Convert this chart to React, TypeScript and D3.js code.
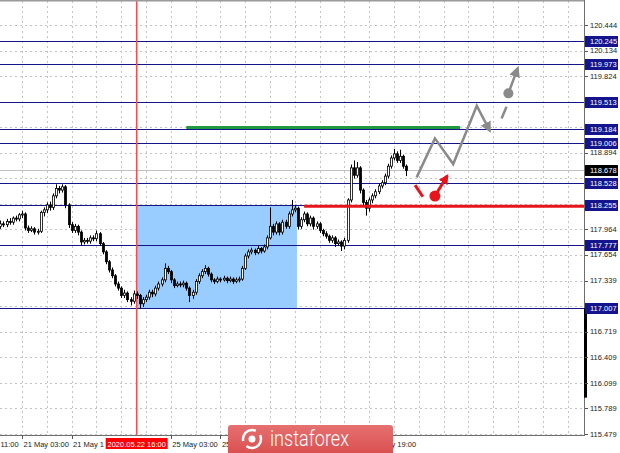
import * as d3 from "d3"

const W = 620
const H = 453

// price axis
const yTickLabels = [
  "115.479", "115.789", "116.099", "116.409", "116.719", "117.029", "117.339", "117.654", "117.964",
  "118.274", "118.584", "118.894", "119.204", "119.514", "119.824", "120.134", "120.444",
]
const levels = [120.245, 119.973, 119.513, 119.184, 119.006, 118.528, 118.255, 117.777, 117.007]
const lastPrice = 118.678
const keyLevel = 118.255
const targetLevel = 119.2

// time axis (bar index -> label); first one only shows its time, date is off-screen
const xTickBars = [-9, 7, 23, 55, 71, 119]
const xTickLabels = ["11:00", "21 May 03:00", "21 May 19:00", "25 May 03:00", "25 May 19:00", "27 May 19:00"]
const markBar = 44
const markLabel = "2020.05.22 16:00"

// objects on the chart, in [bar, price]
const boxRange = [44, 95.7]
const boxPrices = [117.007, 118.255]
const keyLineFrom = 98
const targetRange = [60, 148.3]
const grayPath: [number, number][] = [[134.3, 118.594], [140.2, 119.068], [146.1, 118.756], [153.7, 119.463], [157.9, 119.16]]
const grayDash: [number, number][] = [[161.7, 119.31], [163.3, 119.451]]
const grayArrow: [number, number][] = [[163.9, 119.614], [166.9, 119.92]]
const redDash: [number, number][] = [[133.8, 118.501], [136.3, 118.359]]
const redArrow: [number, number][] = [[140.2, 118.367], [144.2, 118.615]]
const scaleBar = [117.007, 115.92]

// H1 candles: open, high, low, close
const bars: [number, number, number, number][] = [
  [118.00, 118.07, 117.97, 118.03], [118.03, 118.06, 117.99, 118.02], [118.02, 118.09, 117.99, 118.06], [118.06, 118.10, 118.02, 118.05],
  [118.05, 118.12, 118.02, 118.10], [118.10, 118.13, 118.06, 118.09], [118.09, 118.16, 118.06, 118.14], [118.14, 118.19, 118.10, 118.15],
  [118.15, 118.17, 117.95, 117.98], [117.98, 118.01, 117.92, 117.95], [117.95, 118.00, 117.93, 117.97], [117.97, 117.99, 117.90, 117.93],
  [117.93, 117.97, 117.90, 117.94], [117.94, 118.19, 117.92, 118.17], [118.17, 118.23, 118.12, 118.20], [118.20, 118.29, 118.16, 118.26],
  [118.26, 118.30, 118.19, 118.23], [118.23, 118.40, 118.20, 118.37], [118.37, 118.51, 118.34, 118.46], [118.46, 118.49, 118.40, 118.44],
  [118.44, 118.51, 118.41, 118.48], [118.48, 118.50, 118.22, 118.26], [118.26, 118.28, 117.98, 118.02], [118.02, 118.05, 117.92, 117.95],
  [117.95, 118.03, 117.92, 118.00], [118.00, 118.02, 117.89, 117.93], [117.93, 117.95, 117.77, 117.81], [117.81, 117.86, 117.78, 117.83],
  [117.83, 117.86, 117.79, 117.82], [117.82, 117.89, 117.79, 117.86], [117.86, 117.89, 117.82, 117.85], [117.85, 117.95, 117.82, 117.91],
  [117.91, 117.93, 117.76, 117.79], [117.79, 117.81, 117.66, 117.69], [117.69, 117.71, 117.54, 117.57], [117.57, 117.59, 117.44, 117.47],
  [117.47, 117.50, 117.37, 117.40], [117.40, 117.42, 117.27, 117.30], [117.30, 117.33, 117.22, 117.25], [117.25, 117.27, 117.13, 117.16],
  [117.16, 117.23, 117.13, 117.19], [117.19, 117.21, 117.08, 117.11], [117.11, 117.14, 117.04, 117.09], [117.09, 117.22, 117.06, 117.18],
  [117.18, 117.21, 117.12, 117.16], [117.16, 117.18, 117.00, 117.06], [117.06, 117.14, 117.02, 117.11], [117.11, 117.17, 117.08, 117.14],
  [117.14, 117.23, 117.11, 117.20], [117.20, 117.23, 117.14, 117.18], [117.18, 117.28, 117.15, 117.25], [117.25, 117.33, 117.22, 117.30],
  [117.30, 117.38, 117.27, 117.35], [117.35, 117.55, 117.32, 117.49], [117.49, 117.52, 117.42, 117.45], [117.45, 117.47, 117.31, 117.35],
  [117.35, 117.37, 117.25, 117.28], [117.28, 117.33, 117.26, 117.30], [117.30, 117.33, 117.26, 117.29], [117.29, 117.34, 117.26, 117.31],
  [117.31, 117.33, 117.22, 117.25], [117.25, 117.27, 117.08, 117.16], [117.16, 117.23, 117.12, 117.20], [117.20, 117.36, 117.17, 117.33],
  [117.33, 117.43, 117.30, 117.40], [117.40, 117.48, 117.37, 117.45], [117.45, 117.53, 117.42, 117.49], [117.49, 117.51, 117.39, 117.42],
  [117.42, 117.44, 117.32, 117.35], [117.35, 117.37, 117.30, 117.33], [117.33, 117.39, 117.31, 117.36], [117.36, 117.38, 117.32, 117.35],
  [117.35, 117.40, 117.33, 117.37], [117.37, 117.39, 117.31, 117.34], [117.34, 117.39, 117.32, 117.36], [117.36, 117.38, 117.30, 117.33],
  [117.33, 117.38, 117.31, 117.35], [117.35, 117.39, 117.32, 117.36], [117.36, 117.52, 117.34, 117.49], [117.49, 117.67, 117.47, 117.64],
  [117.64, 117.72, 117.61, 117.69], [117.69, 117.74, 117.66, 117.71], [117.71, 117.73, 117.65, 117.68], [117.68, 117.76, 117.66, 117.73],
  [117.73, 117.75, 117.67, 117.70], [117.70, 117.78, 117.68, 117.75], [117.75, 117.89, 117.72, 117.86], [117.86, 118.23, 117.84, 118.00],
  [118.00, 118.03, 117.89, 117.93], [117.93, 118.06, 117.90, 118.03], [118.03, 118.05, 117.89, 117.93], [117.93, 118.08, 117.90, 118.05],
  [118.05, 118.08, 117.97, 118.00], [118.00, 118.18, 117.97, 118.15], [118.15, 118.32, 118.12, 118.20], [118.20, 118.26, 118.17, 118.22],
  [118.22, 118.24, 117.96, 118.00], [118.00, 118.11, 117.97, 118.08], [118.08, 118.18, 118.05, 118.15], [118.15, 118.17, 118.00, 118.03],
  [118.03, 118.13, 118.00, 118.10], [118.10, 118.12, 117.96, 118.00], [118.00, 118.06, 117.97, 118.03], [118.03, 118.05, 117.92, 117.95],
  [117.95, 117.97, 117.88, 117.91], [117.91, 117.94, 117.85, 117.88], [117.88, 117.90, 117.80, 117.83], [117.83, 117.89, 117.80, 117.86],
  [117.86, 117.88, 117.75, 117.79], [117.79, 117.84, 117.76, 117.81], [117.81, 117.83, 117.70, 117.76], [117.76, 117.86, 117.72, 117.83],
  [117.83, 118.34, 117.80, 118.32], [118.32, 118.75, 118.29, 118.71], [118.71, 118.80, 118.58, 118.62], [118.62, 118.78, 118.59, 118.71],
  [118.71, 118.73, 118.40, 118.44], [118.44, 118.46, 118.24, 118.29], [118.29, 118.32, 118.13, 118.22], [118.22, 118.35, 118.18, 118.32],
  [118.32, 118.40, 118.28, 118.37], [118.37, 118.45, 118.34, 118.42], [118.42, 118.52, 118.39, 118.49], [118.49, 118.56, 118.46, 118.53],
  [118.53, 118.64, 118.50, 118.61], [118.61, 118.76, 118.58, 118.73], [118.73, 118.86, 118.70, 118.83], [118.83, 118.94, 118.80, 118.88],
  [118.88, 118.91, 118.77, 118.80], [118.80, 118.93, 118.77, 118.85], [118.85, 118.87, 118.70, 118.73], [118.73, 118.75, 118.61, 118.678],
]

const FONT = "'Liberation Sans', Arial, sans-serif"
const NAVY = "#14148c"
const GRAY = "#8a8a8a"
const RED = "#e8141c"
const CHAR_W = 3.9 // approx. width of one axis character at 7.5px

export default function App() {
  const plot = { left: 0, right: 584, top: 1, bottom: 435 }
  const x = d3.scaleLinear().domain([0, 188]).range([0.3, 0.3 + 188 * 3.1])
  const y = d3.scaleLinear().domain([115.479, 120.444]).range([434, 25])
  const yTicks = yTickLabels.map((t) => +t)
  const crisp = (v: number) => Math.round(v) + 0.5

  const gridBars = d3.range(-1, 190, 8)
  const line = d3.line<[number, number]>().x((d) => x(d[0])).y((d) => y(d[1]))

  const labelled = [...levels, lastPrice]
  const freeTicks = yTicks.filter((t) => labelled.every((l) => Math.abs(y(t) - y(l)) > 7))
  const markBoxLeft = x(markBar) - 31

  // the dated marker box sits on top of the axis: text running under it is cut where it starts
  const fitBeforeMark = (s: string, lx: number) => {
    if (lx >= markBoxLeft || lx + s.length * CHAR_W <= markBoxLeft) return s
    const n = Math.floor((markBoxLeft - lx - 1) / CHAR_W)
    return s.slice(0, n).trimEnd()
  }

  return (
    <div style={{ position: "fixed", left: 0, top: 0 }}>
      <svg width={W} height={H} style={{ display: "block", background: "#fff" }} fontFamily={FONT}>
        <defs>
          <clipPath id="plot">
            <rect x={plot.left} y={plot.top} width={plot.right - plot.left} height={plot.bottom - plot.top} />
          </clipPath>
          <marker id="ga" viewBox="0 0 10 10" refX="8" refY="5" markerWidth="11" markerHeight="11" markerUnits="userSpaceOnUse" orient="auto">
            <path d="M0,0 L10,5 L0,10 Z" fill={GRAY} />
          </marker>
          <marker id="ra" viewBox="0 0 10 10" refX="8" refY="5" markerWidth="10" markerHeight="10" markerUnits="userSpaceOnUse" orient="auto">
            <path d="M0,0 L10,5 L0,10 Z" fill={RED} />
          </marker>
          <linearGradient id="logo" x1="0" y1="0" x2="0" y2="1">
            <stop offset="0%" stopColor="#e67070" />
            <stop offset="100%" stopColor="#d94c4c" />
          </linearGradient>
        </defs>

        <g clipPath="url(#plot)">
          {/* grid */}
          {yTicks.map((t) => (
            <line key={"gy" + t} x1={plot.left} x2={plot.right} y1={crisp(y(t))} y2={crisp(y(t))} stroke="#c4c4c4" strokeDasharray="2,3" />
          ))}
          {gridBars.map((b) => (
            <line key={"gx" + b} x1={crisp(x(b))} x2={crisp(x(b))} y1={plot.top} y2={plot.bottom} stroke="#c4c4c4" strokeDasharray="2,3" />
          ))}

          {/* rectangle zone */}
          <rect
            x={x(boxRange[0])}
            y={y(boxPrices[1])}
            width={x(boxRange[1]) - x(boxRange[0])}
            height={y(boxPrices[0]) - y(boxPrices[1])}
            fill="#99ccff"
          />

          {/* horizontal levels */}
          {levels.map((l) => (
            <line key={"l" + l} x1={plot.left} x2={plot.right} y1={crisp(y(l))} y2={crisp(y(l))} stroke={NAVY} strokeWidth={1} />
          ))}
          <line x1={plot.left} x2={plot.right} y1={crisp(y(lastPrice))} y2={crisp(y(lastPrice))} stroke="#c0c0c0" />

          {/* event line */}
          <line x1={x(markBar)} x2={x(markBar)} y1={plot.top} y2={plot.bottom} stroke="#ff4a4a" strokeWidth={1.5} />

          {/* candles */}
          {bars.map(([o, h, l, c], i) => {
            const cx = crisp(x(i))
            const top = y(Math.max(o, c))
            const bot = y(Math.min(o, c))
            return (
              <g key={"c" + i}>
                <line x1={cx} x2={cx} y1={y(h)} y2={y(l)} stroke="#000" strokeWidth={1} />
                <rect x={cx - 1} y={top} width={2} height={Math.max(bot - top, 1)} fill={c >= o ? "#fff" : "#000"} stroke="#000" strokeWidth={0.8} />
              </g>
            )
          })}

          {/* red key level and green target */}
          <line x1={x(keyLineFrom)} x2={plot.right} y1={y(keyLevel) + 1} y2={y(keyLevel) + 1} stroke={RED} strokeWidth={3} />
          <line x1={x(targetRange[0])} x2={x(targetRange[1])} y1={y(targetLevel)} y2={y(targetLevel)} stroke="#1f9a3c" strokeWidth={3} />

          {/* forecast drawings */}
          <path d={line(grayPath) ?? ""} fill="none" stroke={GRAY} strokeWidth={2.5} strokeLinejoin="miter" markerEnd="url(#ga)" />
          <path d={line(grayDash) ?? ""} fill="none" stroke={GRAY} strokeWidth={2.5} />
          <circle cx={x(grayArrow[0][0])} cy={y(grayArrow[0][1])} r={5} fill={GRAY} />
          <path d={line(grayArrow) ?? ""} fill="none" stroke={GRAY} strokeWidth={2.5} markerEnd="url(#ga)" />
          <path d={line(redDash) ?? ""} fill="none" stroke={RED} strokeWidth={3} />
          <circle cx={x(redArrow[0][0])} cy={y(redArrow[0][1])} r={5.5} fill={RED} />
          <path d={line(redArrow) ?? ""} fill="none" stroke={RED} strokeWidth={3} markerEnd="url(#ra)" />
        </g>

        {/* frame */}
        <line x1={0} x2={plot.right} y1={0.5} y2={0.5} stroke="#9a9a9a" strokeWidth={2} />
        <line x1={plot.right + 0.5} x2={plot.right + 0.5} y1={0} y2={plot.bottom + 1} stroke="#6e6e6e" />
        <line x1={0} x2={plot.right + 1} y1={plot.bottom + 0.5} y2={plot.bottom + 0.5} stroke="#6e6e6e" />
        <line x1={plot.right + 1.5} x2={plot.right + 1.5} y1={y(scaleBar[0])} y2={y(scaleBar[1])} stroke="#000" strokeWidth={3} />

        {/* price axis */}
        {yTicks.map((t) => (
          <line key={"yt" + t} x1={plot.right + 1} x2={plot.right + 4} y1={crisp(y(t))} y2={crisp(y(t))} stroke="#555" />
        ))}
        {freeTicks.map((t) => (
          <text key={"yl" + t} x={plot.right + 6} y={y(t) + 2.6} fontSize={7.5} fill="#222">
            {yTickLabels[yTicks.indexOf(t)]}
          </text>
        ))}
        {levels.map((l) => (
          <g key={"lb" + l}>
            <rect x={plot.right + 1} y={Math.round(y(l)) - 5} width={33} height={11} fill={NAVY} />
            <text x={plot.right + 6} y={Math.round(y(l)) + 3} fontSize={7.5} fill="#fff">
              {l.toFixed(3)}
            </text>
          </g>
        ))}
        <rect x={plot.right + 1} y={Math.round(y(lastPrice)) - 5} width={33} height={11} fill="#000" />
        <text x={plot.right + 6} y={Math.round(y(lastPrice)) + 3} fontSize={7.5} fill="#fff">
          {lastPrice.toFixed(3)}
        </text>

        {/* time axis */}
        {xTickBars.map((b, i) => {
          const lx = i === 0 ? plot.left + 0.5 : x(b) + 1.5
          return (
            <g key={"xt" + b}>
              <line x1={crisp(x(b))} x2={crisp(x(b))} y1={plot.bottom} y2={plot.bottom + 4} stroke="#555" />
              <text x={lx} y={plot.bottom + 12} fontSize={7.5} fill="#222">
                {fitBeforeMark(xTickLabels[i], lx)}
              </text>
            </g>
          )
        })}
        <rect x={markBoxLeft} y={plot.bottom + 3} width={62} height={11} fill="#ff0000" />
        <text x={x(markBar)} y={plot.bottom + 11.5} fontSize={7.5} fill="#fff" textAnchor="middle">
          {markLabel}
        </text>

        {/* watermark */}
        <g>
          <rect x={228} y={425} width={165} height={32} rx={3} fill="url(#logo)" />
          <circle cx={252} cy={439} r={9} fill="none" stroke="#fff" strokeWidth={2.5} strokeDasharray="20,6" />
          <circle cx={252} cy={439} r={3.5} fill="#fff" />
          <text x={270} y={446} fontSize={22} fill="#fff" fontFamily="Roboto, sans-serif" fontWeight={300} textLength={79} lengthAdjust="spacingAndGlyphs">
            instaforex
          </text>
        </g>
      </svg>
    </div>
  )
}
